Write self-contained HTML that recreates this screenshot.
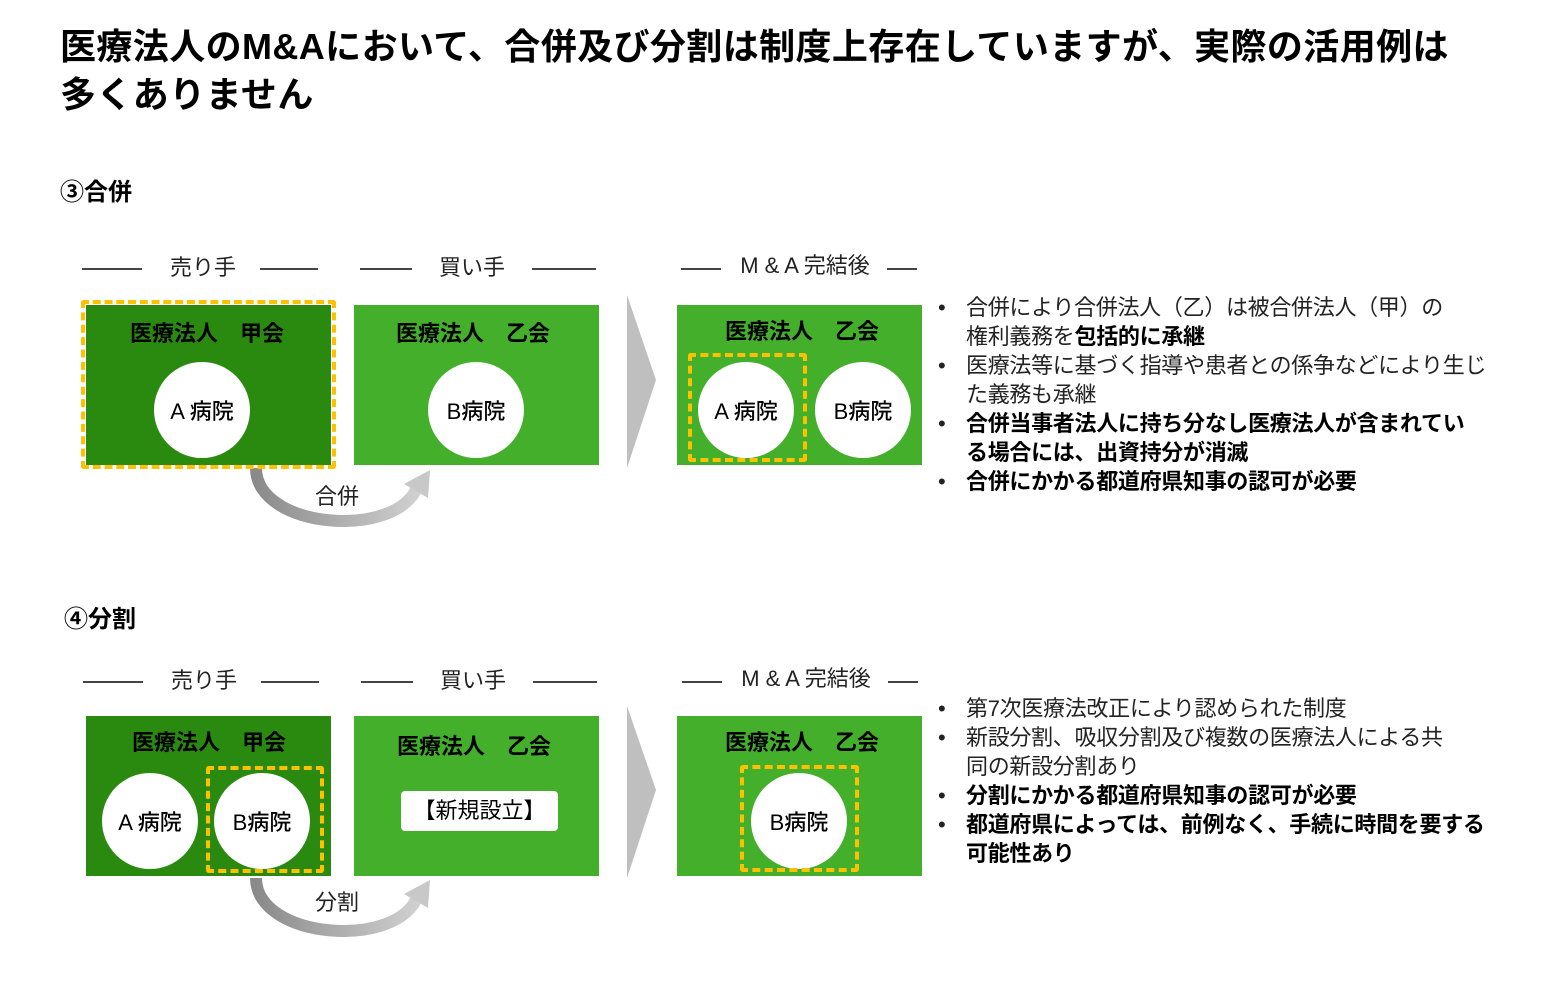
<!DOCTYPE html>
<html><head><meta charset="utf-8"><style>
body{margin:0;width:1545px;height:998px;background:#fff;position:relative;overflow:hidden;font-family:"Liberation Sans","Noto Sans CJK JP",sans-serif;color:#000}
.a{position:absolute;white-space:nowrap}
.t{left:60px;font-size:36px;font-weight:bold;line-height:48px;letter-spacing:0.4px}
.h{font-size:24px;font-weight:bold}
.lbl{font-size:22px;color:#222;transform:translate(-50%,-50%)}
.ln{position:absolute;height:2px;background:#444}
.box{position:absolute}
.dk{background:#2a8a10}.lt{background:#43af2a}
.bt{font-size:22px;font-weight:bold;transform:translate(-50%,-50%)}
.c{position:absolute;width:96px;height:96px;border-radius:50%;background:#fff;transform:translate(-50%,-50%);display:flex;align-items:center;justify-content:center;font-size:22px;font-weight:500}
.dash{position:absolute;border:4px dashed #ffc000;box-sizing:border-box;border-radius:3px}
.bl{position:absolute;left:938px;font-size:22px;line-height:29px;color:#222;letter-spacing:-0.3px}
.bl div{position:relative;padding-left:28px}
.bl div:before{content:"•";position:absolute;left:0}
b{color:#000}
</style></head><body>
<div class="a t" style="top:23px">医療法人のM&amp;Aにおいて、合併及び分割は制度上存在していますが、実際の活用例は</div>
<div class="a t" style="top:71px">多くありません</div>

<svg class="a" style="left:0;top:0" width="1545" height="998">
<defs><linearGradient id="g" x1="0" x2="1"><stop offset="0" stop-color="#8a8a8a"/><stop offset="1" stop-color="#d0d0d0"/></linearGradient></defs>
<polygon points="627,295 656,380 627,468" fill="#bfbfbf"/>
<polygon points="627,706 656,790 627,878" fill="#bfbfbf"/>
<path d="M256,468 C256,530 400,540 418,485" fill="none" stroke="url(#g)" stroke-width="12"/>
<polygon points="404,484 430,470 428,498" fill="#c8c8c8"/>
<path d="M256,878 C256,940 400,950 418,895" fill="none" stroke="url(#g)" stroke-width="12"/>
<polygon points="404,894 430,880 428,908" fill="#c8c8c8"/>
</svg>

<!-- section 3 -->
<div class="a h" style="left:60px;top:172px">③合併</div>
<div class="ln" style="left:82px;top:268px;width:60px"></div><div class="ln" style="left:260px;top:268px;width:58px"></div>
<div class="ln" style="left:360px;top:268px;width:52px"></div><div class="ln" style="left:532px;top:268px;width:64px"></div>
<div class="ln" style="left:681px;top:268px;width:40px"></div><div class="ln" style="left:887px;top:268px;width:30px"></div>
<div class="a lbl" style="left:203px;top:266px">売り手</div>
<div class="a lbl" style="left:472px;top:266px">買い手</div>
<div class="a lbl" style="left:805px;top:264px">M &amp; A 完結後</div>
<div class="box dk" style="left:86px;top:305px;width:245px;height:160px"></div>
<div class="dash" style="left:81px;top:300px;width:255px;height:169px"></div>
<div class="box lt" style="left:354px;top:305px;width:245px;height:160px"></div>
<div class="box lt" style="left:677px;top:305px;width:245px;height:160px"></div>
<div class="a bt" style="left:207px;top:332px">医療法人　甲会</div>
<div class="a bt" style="left:473px;top:332px">医療法人　乙会</div>
<div class="a bt" style="left:802px;top:330px">医療法人　乙会</div>
<div class="c" style="left:202px;top:410px">A 病院</div>
<div class="c" style="left:476px;top:410px">B病院</div>
<div class="c" style="left:746px;top:410px">A 病院</div>
<div class="c" style="left:863px;top:410px">B病院</div>
<div class="dash" style="left:688px;top:353px;width:119px;height:109px"></div>
<div class="a lbl" style="left:337px;top:495px">合併</div>
<div class="bl" style="top:293px">
<div>合併により合併法人（乙）は被合併法人（甲）の<br>権利義務を<b>包括的に承継</b></div>
<div>医療法等に基づく指導や患者との係争などにより生じ<br>た義務も承継</div>
<div><b>合併当事者法人に持ち分なし医療法人が含まれてい<br>る場合には、出資持分が消滅</b></div>
<div><b>合併にかかる都道府県知事の認可が必要</b></div>
</div>

<!-- section 4 -->
<div class="a h" style="left:64px;top:599px">④分割</div>
<div class="ln" style="left:83px;top:681px;width:60px"></div><div class="ln" style="left:261px;top:681px;width:58px"></div>
<div class="ln" style="left:361px;top:681px;width:52px"></div><div class="ln" style="left:533px;top:681px;width:64px"></div>
<div class="ln" style="left:682px;top:681px;width:40px"></div><div class="ln" style="left:888px;top:681px;width:30px"></div>
<div class="a lbl" style="left:204px;top:679px">売り手</div>
<div class="a lbl" style="left:473px;top:679px">買い手</div>
<div class="a lbl" style="left:806px;top:677px">M &amp; A 完結後</div>
<div class="box dk" style="left:86px;top:716px;width:245px;height:160px"></div>
<div class="box lt" style="left:354px;top:716px;width:245px;height:160px"></div>
<div class="box lt" style="left:677px;top:716px;width:245px;height:160px"></div>
<div class="a bt" style="left:209px;top:741px">医療法人　甲会</div>
<div class="a bt" style="left:474px;top:745px">医療法人　乙会</div>
<div class="a bt" style="left:802px;top:741px">医療法人　乙会</div>
<div class="c" style="left:150px;top:821px">A 病院</div>
<div class="c" style="left:262px;top:821px">B病院</div>
<div class="dash" style="left:206px;top:766px;width:118px;height:107px"></div>
<div class="a" style="left:401px;top:791px;width:157px;height:40px;background:#fff;border-radius:4px;font-size:22px;line-height:40px;text-align:center">【新規設立】</div>
<div class="c" style="left:799px;top:821px">B病院</div>
<div class="dash" style="left:740px;top:765px;width:119px;height:107px"></div>
<div class="a lbl" style="left:337px;top:901px">分割</div>
<div class="bl" style="top:694px">
<div>第7次医療法改正により認められた制度</div>
<div>新設分割、吸収分割及び複数の医療法人による共<br>同の新設分割あり</div>
<div><b>分割にかかる都道府県知事の認可が必要</b></div>
<div><b>都道府県によっては、前例なく、手続に時間を要する<br>可能性あり</b></div>
</div>
</body></html>
